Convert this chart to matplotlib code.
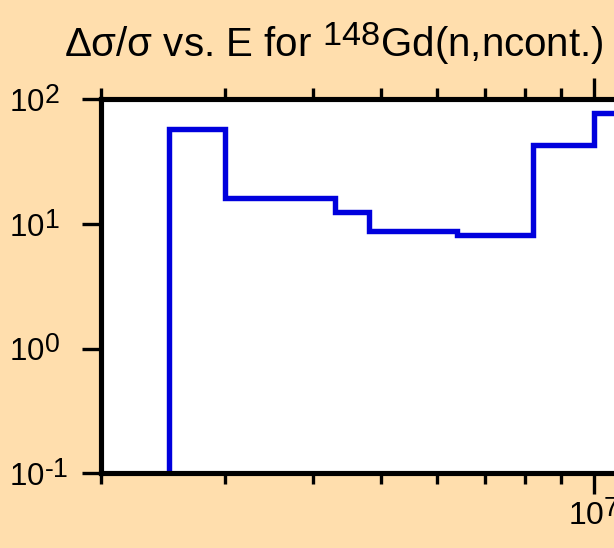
import numpy as np
import matplotlib
matplotlib.use("Agg")
import matplotlib.pyplot as plt
import matplotlib._mathtext as mt
from matplotlib.ticker import LogLocator, NullLocator, FuncFormatter, NullFormatter

plt.rcParams['font.family'] = ['Liberation Sans', 'DejaVu Sans']
plt.rcParams['mathtext.fontset'] = 'custom'
plt.rcParams['mathtext.rm'] = 'Liberation Sans'
plt.rcParams['mathtext.it'] = 'Liberation Sans'
plt.rcParams['mathtext.default'] = 'regular'

# the reference uses big, only slightly raised exponents
mt.SHRINK_FACTOR = 0.85
mt.FontConstantsBase.sup1 = 0.5

# bin edges (eV) and relative uncertainty (%)
edges = [2.5e6, 3.0e6, 4.3e6, 4.8e6, 6.4e6, 8.2e6, 1.0e7, 1.3e7]
rel_unc = [58.0, 16.0, 12.4, 8.8, 8.1, 43.0, 77.0]


def pow10(v, pos):
    e = int(round(np.log10(v)))
    # short hyphen like the reference, not a math minus
    return '$10^{%s}$' % str(e).replace('-', '\u2010')


bg = '#FFDEAD'
fig = plt.figure(figsize=(6.14, 5.48), dpi=100, facecolor=bg)
ax = fig.add_axes([0.1645, 0.136, 1.148, 0.683])
ax.set_facecolor('white')

ax.stairs(rel_unc, edges, baseline=1e-3, color='#0000dd', linewidth=3.9)

ax.set_xscale('log')
ax.set_yscale('log')
ax.set_xlim(2e6, 2e7)
ax.set_ylim(1e-1, 1e2)

ax.xaxis.set_major_locator(LogLocator(base=10))
ax.xaxis.set_major_formatter(FuncFormatter(pow10))
ax.xaxis.set_minor_locator(LogLocator(base=10, subs=np.arange(2, 10)))
ax.xaxis.set_minor_formatter(NullFormatter())
ax.yaxis.set_major_locator(LogLocator(base=10))
ax.yaxis.set_major_formatter(FuncFormatter(pow10))
ax.yaxis.set_minor_locator(NullLocator())

for s in ax.spines.values():
    s.set_linewidth(3.7)

ax.tick_params(axis='x', which='major', direction='out', length=15, width=2.4,
               top=True, labelsize=23, pad=4)
ax.tick_params(axis='x', which='minor', direction='out', length=8, width=2.4, top=True)
# y labels are left aligned in the reference
ax.tick_params(axis='y', which='major', direction='out', length=14, width=2.4,
               labelsize=22.5, pad=52)
for lab in ax.get_yticklabels():
    lab.set_horizontalalignment('left')

fig.text(334 / 614, 1 - 57 / 548, 'Δσ/σ vs. E for $^{148}$Gd(n,ncont.)',
         ha='center', va='baseline', fontsize=29)

fig.savefig('out.png', dpi=100, facecolor=bg)
